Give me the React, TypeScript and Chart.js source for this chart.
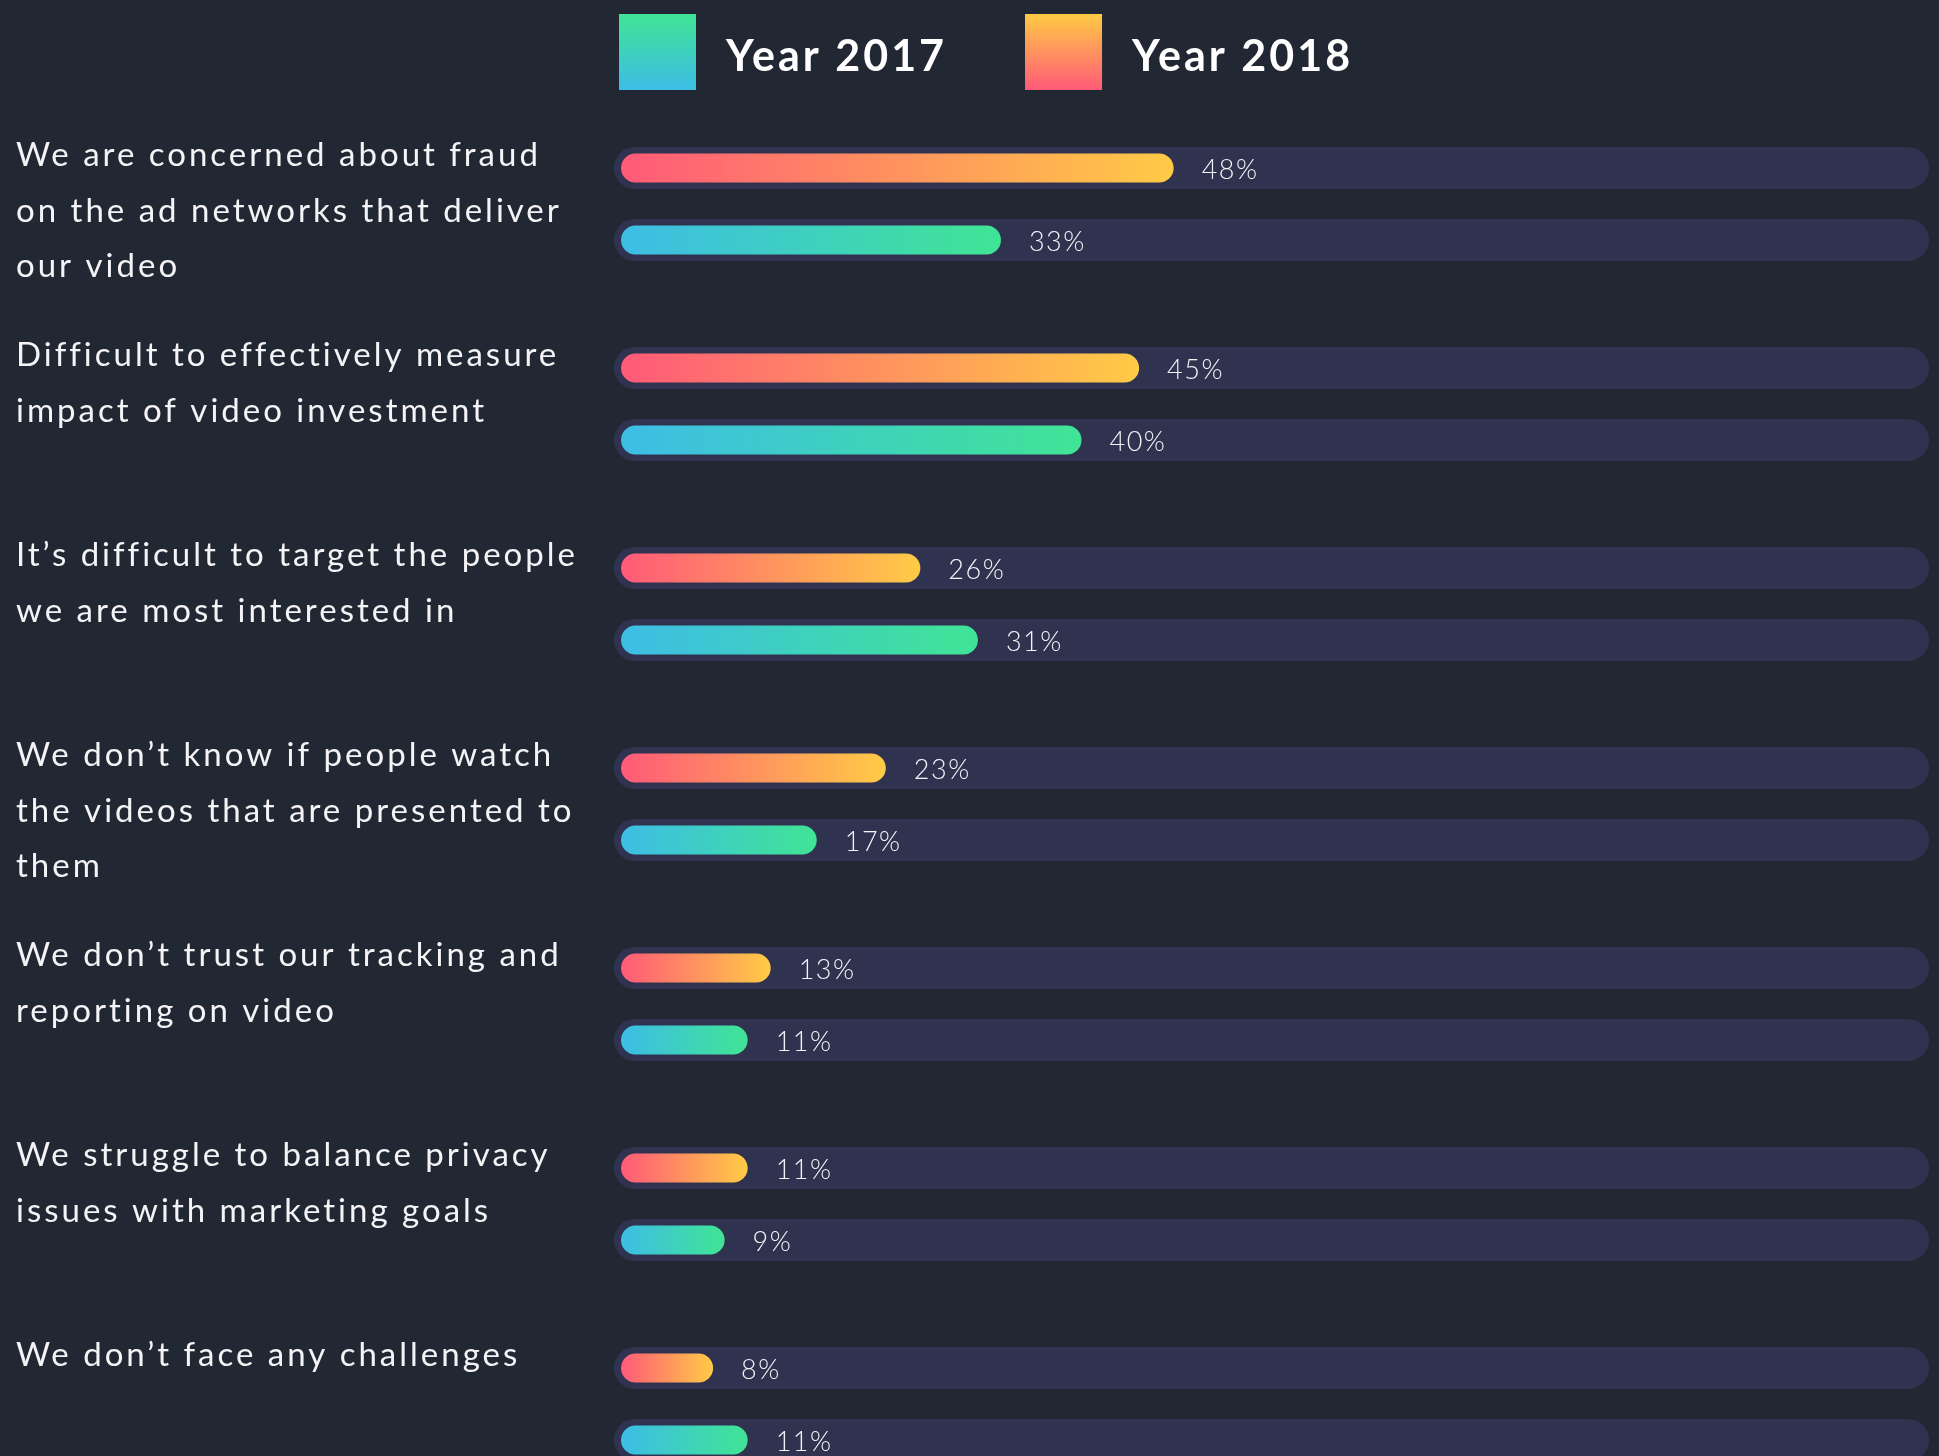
import { useEffect, useRef } from "react";
import { Chart, registerables } from "chart.js";

Chart.register(...registerables);

// ---------- data ----------
const categories: string[][] = [
  ["We are concerned about fraud", "on the ad networks that deliver", "our video"],
  ["Difficult to effectively measure", "impact of video investment"],
  ["It’s difficult to target the people", "we are most interested in"],
  ["We don’t know if people watch", "the videos that are presented to", "them"],
  ["We don’t trust our tracking and", "reporting on video"],
  ["We struggle to balance privacy", "issues with marketing goals"],
  ["We don’t face any challenges"],
];
const seriesLabels = ["Year 2018", "Year 2017"];
const values2018 = [48, 45, 26, 23, 13, 11, 8];
const values2017 = [33, 40, 31, 17, 11, 9, 11];

// ---------- style ----------
const BG = "#222833";
const TRACK = "#2F3350";
const GRAD_2018 = ["#FF5A78", "#FFCB45"];
const GRAD_2017 = ["#3DBDE6", "#40E495"];
const TEXT = "#F4F4F7";
const FONT = "Lato, 'Open Sans', sans-serif";

function barGradient(colors: string[]) {
  return (c: any) => {
    const chart = c.chart;
    const xs = chart.scales && chart.scales.x;
    if (!xs || c.type !== "data") return colors[0];
    const x0 = xs.getPixelForValue(0);
    const x1 = xs.getPixelForValue(c.raw);
    if (!isFinite(x0) || !isFinite(x1) || x1 <= x0) return colors[0];
    const g = chart.ctx.createLinearGradient(x0, 0, x1, 0);
    g.addColorStop(0, colors[0]);
    g.addColorStop(1, colors[1]);
    return g;
  };
}

function setSpacing(ctx: any, px: number) {
  if ("letterSpacing" in ctx) ctx.letterSpacing = `${px}px`;
}

const bgPlugin = {
  id: "bg",
  beforeDraw(chart: any) {
    const { ctx, width, height } = chart;
    ctx.save();
    ctx.fillStyle = BG;
    ctx.fillRect(0, 0, width, height);
    ctx.restore();
  },
};

const trackPlugin = {
  id: "tracks",
  beforeDatasetsDraw(chart: any) {
    const { ctx, chartArea } = chart;
    ctx.save();
    ctx.fillStyle = TRACK;
    chart.data.datasets.forEach((_ds: any, di: number) => {
      const meta = chart.getDatasetMeta(di);
      meta.data.forEach((el: any) => {
        const h = 42;
        const left = chartArea.left - 7;
        const right = chartArea.right + 7;
        ctx.beginPath();
        ctx.roundRect(left, el.y - h / 2, right - left, h, h / 2);
        ctx.fill();
      });
    });
    ctx.restore();
  },
};

const valuePlugin = {
  id: "values",
  afterDatasetsDraw(chart: any) {
    const { ctx } = chart;
    ctx.save();
    ctx.fillStyle = TEXT;
    ctx.font = `300 27px ${FONT}`;
    setSpacing(ctx, 1.5);
    ctx.textAlign = "left";
    ctx.textBaseline = "alphabetic";
    chart.data.datasets.forEach((ds: any, di: number) => {
      const meta = chart.getDatasetMeta(di);
      meta.data.forEach((el: any, i: number) => {
        ctx.fillText(`${ds.data[i]}%`, el.x + 28, el.y + 11);
      });
    });
    ctx.restore();
  },
};

const labelPlugin = {
  id: "catLabels",
  afterDraw(chart: any) {
    const { ctx } = chart;
    const meta0 = chart.getDatasetMeta(0);
    ctx.save();
    ctx.fillStyle = TEXT;
    ctx.font = `400 33px ${FONT}`;
    setSpacing(ctx, 3);
    ctx.textAlign = "left";
    ctx.textBaseline = "alphabetic";
    (chart.data.labels as string[][]).forEach((lines, i) => {
      const el = meta0.data[i];
      if (!el) return;
      lines.forEach((line, j) => {
        ctx.fillText(line, 16, el.y - 2 + j * 55.5);
      });
    });
    ctx.restore();
  },
};

const legendPlugin = {
  id: "customLegend",
  afterDraw(chart: any) {
    const { ctx, chartArea } = chart;
    ctx.save();
    ctx.font = `700 43px ${FONT}`;
    setSpacing(ctx, 3);
    ctx.textBaseline = "alphabetic";
    ctx.textAlign = "left";
    let x = chartArea.left - 2;
    const top = 14;
    const boxW = 77;
    const boxH = 76;
    const order = [1, 0];
    order.forEach((di) => {
      const ds = chart.data.datasets[di];
      const cols = di === 0 ? GRAD_2018 : GRAD_2017;
      const g = ctx.createLinearGradient(0, top + boxH, 0, top);
      g.addColorStop(0, cols[0]);
      g.addColorStop(1, cols[1]);
      ctx.fillStyle = g;
      ctx.fillRect(x, top, boxW, boxH);
      ctx.fillStyle = "#FFFFFF";
      const tx = x + boxW + 30;
      ctx.fillText(ds.label, tx, 71);
      x = tx + ctx.measureText(ds.label).width + 78;
    });
    ctx.restore();
  },
};

export default function App() {
  const ref = useRef<HTMLCanvasElement | null>(null);

  useEffect(() => {
    const canvas = ref.current;
    if (!canvas) return;
    const chart = new Chart(canvas, {
      type: "bar",
      data: {
        labels: categories as any,
        datasets: [
          {
            label: seriesLabels[0],
            data: values2018,
            backgroundColor: barGradient(GRAD_2018),
            borderRadius: 15,
            borderSkipped: false,
            borderWidth: 0,
          },
          {
            label: seriesLabels[1],
            data: values2017,
            backgroundColor: barGradient(GRAD_2017),
            borderRadius: 15,
            borderSkipped: false,
            borderWidth: 0,
          },
        ],
      },
      options: {
        indexAxis: "y",
        animation: false,
        responsive: false,
        devicePixelRatio: 1,
        categoryPercentage: 0.72,
        barPercentage: 0.403,
        layout: { padding: { left: 621, right: 17, top: 104, bottom: 6 } },
        scales: {
          x: { display: false, min: 0, max: 113 },
          y: { display: false },
        },
        plugins: {
          legend: { display: false },
          tooltip: { enabled: false },
        },
      } as any,
      plugins: [bgPlugin, trackPlugin, valuePlugin, labelPlugin, legendPlugin],
    });
    return () => chart.destroy();
  }, []);

  return (
    <div
      style={{
        position: "fixed",
        left: 0,
        top: 0,
        width: 1939,
        height: 1456,
        overflow: "hidden",
        background: BG,
      }}
    >
      <canvas ref={ref} width={1939} height={1510} style={{ display: "block" }} />
    </div>
  );
}
